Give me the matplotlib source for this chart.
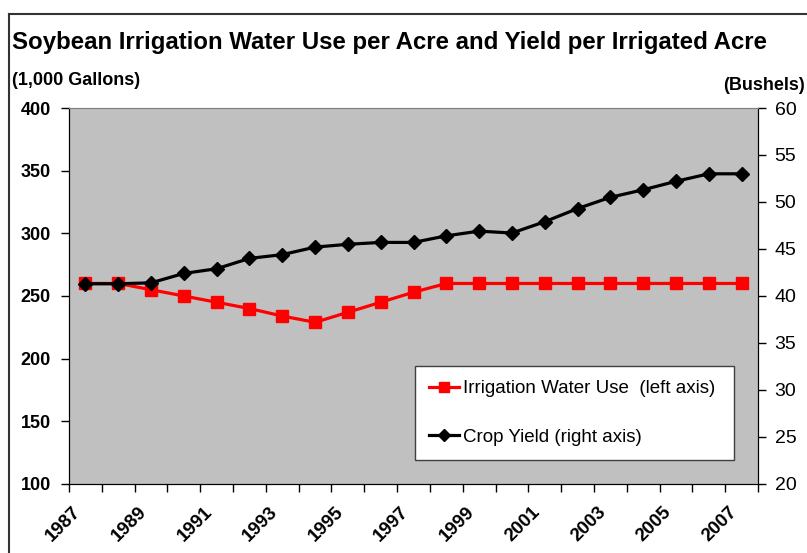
import matplotlib
matplotlib.use("Agg")
import matplotlib.pyplot as plt
from matplotlib.lines import Line2D
from matplotlib.transforms import ScaledTranslation

plt.rcParams['font.family'] = ['Liberation Sans', 'DejaVu Sans']

# datos
years = list(range(1987, 2008))
water_use = [260, 260, 255, 250, 245, 240, 234, 229, 237, 245, 253,
             260, 260, 260, 260, 260, 260, 260, 260, 260, 260]
crop_yield = [41.3, 41.3, 41.4, 42.4, 42.9, 44.0, 44.4, 45.2, 45.5, 45.7, 45.7,
              46.4, 46.9, 46.7, 47.9, 49.3, 50.5, 51.3, 52.2, 53.0, 53.0]
year_labels = [str(y) for y in years[::2]]
left_ticks = [100, 150, 200, 250, 300, 350, 400]
right_ticks = [20, 25, 30, 35, 40, 45, 50, 55, 60]

fig = plt.figure(figsize=(8.07, 5.53), dpi=100)
ax = fig.add_axes([0.0855, 0.1248, 0.8538, 0.6799])
ax.set_facecolor('#C0C0C0')

x = list(range(len(years)))

# serie de agua (eje izquierdo)
l1, = ax.plot(x, water_use, color='#FF0000', lw=2.3, marker='s', markersize=9,
              label='Irrigation Water Use  (left axis)', zorder=3)
ax.set_ylim(100, 400)
ax.set_yticks(left_ticks)
ax.set_yticklabels([str(t) for t in left_ticks], fontweight='bold', fontsize=13)
ax.set_xlim(-0.5, len(years) - 0.5)

# marcas entre categorias, etiquetas en el centro
ax.set_xticks([i - 0.5 for i in range(len(years) + 1)])
ax.set_xticklabels([])
ax.set_xticks(x[::2], minor=True)
ax.set_xticklabels(year_labels, minor=True, rotation=45, ha='right', va='center',
                   rotation_mode='anchor', fontweight='bold', fontsize=13.5)
ax.tick_params(axis='x', which='minor', length=0, pad=14)
ax.tick_params(axis='x', which='major', direction='out', length=6, width=1)
ax.tick_params(axis='y', direction='out', length=6, width=1, pad=7)
offset = ScaledTranslation(-0.07, -0.06, fig.dpi_scale_trans)
for lab in ax.get_xticklabels(minor=True):
    lab.set_transform(lab.get_transform() + offset)

# serie de rendimiento (eje derecho)
ax2 = ax.twinx()
l2, = ax2.plot(x, crop_yield, color='black', lw=2.3, marker='D', markersize=7.5,
               label='Crop Yield (right axis)', zorder=3)
ax2.set_ylim(20, 60)
ax2.set_yticks(right_ticks)
ax2.set_yticklabels([str(t) for t in right_ticks], fontsize=14)
ax2.tick_params(axis='y', direction='out', length=6, width=1, pad=6)

for a in (ax, ax2):
    a.spines['top'].set_color('#808080')
    a.spines['left'].set_color('black')
    a.spines['right'].set_color('black')
    a.spines['bottom'].set_color('black')

leg = ax2.legend(handles=[l1, l2], loc='upper left', bbox_to_anchor=(0.502, 0.061, 0.463, 0.253),
                 mode='expand', borderaxespad=0, fontsize=13.5, frameon=True, fancybox=False,
                 handlelength=1.6, handletextpad=0.2, labelspacing=1.67, borderpad=0.77,
                 markerscale=0.85)
leg.get_frame().set_edgecolor('#404040')
leg.get_frame().set_linewidth(1.0)
leg.get_frame().set_facecolor('white')
leg.get_frame().set_alpha(1)

fig.text(0.0149, 0.924, 'Soybean Irrigation Water Use per Acre and Yield per Irrigated Acre',
         fontsize=17.3, fontweight='bold', ha='left', va='center')
fig.text(0.0149, 0.855, '(1,000 Gallons)', fontsize=13, fontweight='bold', ha='left', va='center')
fig.text(0.9975, 0.846, '(Bushels)', fontsize=13, fontweight='bold', ha='right', va='center')

# marco exterior
fig.add_artist(Line2D([0.0112, 1.0], [0.9747, 0.9747], color='#333333', lw=1.5, transform=fig.transFigure))
fig.add_artist(Line2D([0.0112, 0.0112], [0.0, 0.9747], color='#333333', lw=1.5, transform=fig.transFigure))

fig.savefig('out.png', dpi=100)
